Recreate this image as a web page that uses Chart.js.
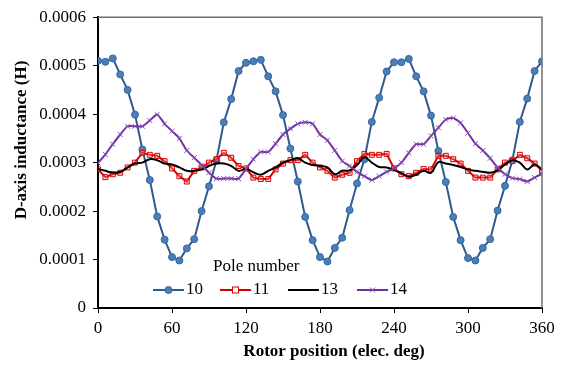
<!DOCTYPE html>
<html>
<head>
<meta charset="utf-8">
<script src="https://cdn.jsdelivr.net/npm/chart.js@4/dist/chart.umd.min.js"></script>
<style>
  html, body { margin: 0; padding: 0; background: #fff; }
  #wrap { width: 563px; height: 367px; }
</style>
</head>
<body>
<div id="wrap"><canvas id="chart" width="563" height="367"></canvas></div>
<script>
// Rotor position (elec. deg), one sample every 6 deg
const angles = [
  0, 6, 12, 18, 24, 30, 36, 42, 48, 54, 60, 66, 72, 78, 84, 90, 96, 102, 108, 114,
  120, 126, 132, 138, 144, 150, 156, 162, 168, 174, 180, 186, 192, 198, 204, 210, 216, 222, 228, 234,
  240, 246, 252, 258, 264, 270, 276, 282, 288, 294, 300, 306, 312, 318, 324, 330, 336, 342, 348, 354, 360
];

// D-axis inductance (H) per pole number
const pole10 = [
  0.000510, 0.000508, 0.000515, 0.000482, 0.000450, 0.000399, 0.000327, 0.000264, 0.000189, 0.000141,
  0.000105, 0.000098, 0.000123, 0.000142, 0.000200, 0.000251, 0.000304, 0.000383, 0.000431, 0.000489,
  0.000506, 0.000509, 0.000512, 0.000478, 0.000447, 0.000398, 0.000329, 0.000261, 0.000188, 0.000140,
  0.000105, 0.000096, 0.000124, 0.000145, 0.000202, 0.000257, 0.000307, 0.000384, 0.000434, 0.000488,
  0.000507, 0.000507, 0.000514, 0.000478, 0.000447, 0.000397, 0.000324, 0.000260, 0.000188, 0.000140,
  0.000103, 0.000098, 0.000124, 0.000142, 0.000201, 0.000252, 0.000305, 0.000384, 0.000432, 0.000489, 0.000509
];
const pole11 = [
  0.000286, 0.000270, 0.000276, 0.000279, 0.000290, 0.000300, 0.000320, 0.000316, 0.000314, 0.000303,
  0.000288, 0.000272, 0.000261, 0.000283, 0.000290, 0.000300, 0.000307, 0.000320, 0.000310, 0.000293,
  0.000288, 0.000269, 0.000266, 0.000266, 0.000286, 0.000298, 0.000305, 0.000305, 0.000316, 0.000300,
  0.000290, 0.000283, 0.000269, 0.000275, 0.000279, 0.000303, 0.000318, 0.000316, 0.000316, 0.000318,
  0.000288, 0.000276, 0.000272, 0.000279, 0.000287, 0.000286, 0.000314, 0.000314, 0.000307, 0.000298,
  0.000283, 0.000269, 0.000269, 0.000269, 0.000286, 0.000300, 0.000303, 0.000316, 0.000309, 0.000298, 0.000283
];
const pole13 = [
  0.000287, 0.000283, 0.000279, 0.000281, 0.000290, 0.000298, 0.000300, 0.000307, 0.000305, 0.000298,
  0.000296, 0.000290, 0.000283, 0.000283, 0.000286, 0.000293, 0.000298, 0.000298, 0.000293, 0.000283,
  0.000287, 0.000280, 0.000275, 0.000283, 0.000290, 0.000300, 0.000305, 0.000309, 0.000300, 0.000295,
  0.000293, 0.000290, 0.000276, 0.000283, 0.000284, 0.000295, 0.000311, 0.000300, 0.000291, 0.000290,
  0.000285, 0.000278, 0.000271, 0.000275, 0.000283, 0.000279, 0.000301, 0.000298, 0.000295, 0.000291,
  0.000286, 0.000283, 0.000281, 0.000279, 0.000284, 0.000296, 0.000305, 0.000300, 0.000286, 0.000296, 0.000286
];
const pole14 = [
  0.000299, 0.000317, 0.000338, 0.000358, 0.000375, 0.000375, 0.000375, 0.000387, 0.000399, 0.000380,
  0.000365, 0.000350, 0.000325, 0.000310, 0.000295, 0.000279, 0.000267, 0.000267, 0.000267, 0.000267,
  0.000287, 0.000307, 0.000322, 0.000322, 0.000339, 0.000358, 0.000370, 0.000380, 0.000383, 0.000380,
  0.000358, 0.000346, 0.000325, 0.000303, 0.000293, 0.000281, 0.000272, 0.000264, 0.000272, 0.000281,
  0.000288, 0.000300, 0.000320, 0.000338, 0.000338, 0.000355, 0.000372, 0.000389, 0.000392, 0.000382,
  0.000361, 0.000339, 0.000325, 0.000309, 0.000290, 0.000276, 0.000268, 0.000266, 0.000261, 0.000269, 0.000277
];

const seriesNames = ['10', '11', '13', '14'];
const xTicks = [0, 60, 120, 180, 240, 300, 360];
const yTicks = [0, 0.0001, 0.0002, 0.0003, 0.0004, 0.0005, 0.0006];

const FONT = "'Liberation Serif', 'Times New Roman', serif";

const toPoints = vals => angles.map((a, i) => ({ x: a, y: vals[i] }));

const styles = [
  { line: '#2F5B8C', style: 'circle', radius: 3.5, fill: '#4A7EBB', stroke: '#36679E', width: 2, tension: 0 },
  { line: '#D80000', style: 'rect', radius: 3.5, fill: 'rgba(255,170,170,0.3)', stroke: '#D80000', width: 2, tension: 0 },
  { line: '#000000', style: false, radius: 0, fill: '#000', stroke: '#000', width: 2, tension: 0.4 },
  { line: '#7030A0', style: 'crossRot', radius: 3.5, fill: '#7030A0', stroke: '#8A4CB8', width: 2, tension: 0.2 }
];

const allValues = [pole10, pole11, pole13, pole14];

const datasets = allValues.map((vals, i) => ({
  label: seriesNames[i],
  data: toPoints(vals),
  borderColor: styles[i].line,
  borderWidth: styles[i].width,
  tension: styles[i].tension,
  pointStyle: styles[i].style,
  pointRadius: styles[i].radius,
  pointBackgroundColor: styles[i].fill,
  pointBorderColor: styles[i].stroke,
  pointBorderWidth: 1,
  order: 4 - i
}));

// small marker for the legend
function drawMarker(ctx, s, x, y) {
  ctx.fillStyle = s.fill;
  ctx.strokeStyle = s.stroke;
  ctx.lineWidth = 1;
  if (s.style === 'circle') {
    ctx.beginPath();
    ctx.arc(x, y, 3.5, 0, Math.PI * 2);
    ctx.fill();
    ctx.stroke();
  } else if (s.style === 'rect') {
    ctx.fillStyle = '#fff';
    ctx.fillRect(x - 3, y - 3, 6, 6);
    ctx.strokeRect(x - 3, y - 3, 6, 6);
  } else if (s.style === 'crossRot') {
    ctx.beginPath();
    ctx.moveTo(x - 2.5, y - 2.5); ctx.lineTo(x + 2.5, y + 2.5);
    ctx.moveTo(x - 2.5, y + 2.5); ctx.lineTo(x + 2.5, y - 2.5);
    ctx.stroke();
  }
}

const framePlugin = {
  id: 'frame',
  afterDraw(chart) {
    const { ctx, chartArea: a } = chart;
    ctx.save();

    // grey top and right border of the plot area
    ctx.strokeStyle = '#6f6f6f';
    ctx.lineWidth = 1.5;
    ctx.beginPath();
    ctx.moveTo(a.left, a.top);
    ctx.lineTo(a.right, a.top);
    ctx.lineTo(a.right, a.bottom);
    ctx.stroke();

    // axis titles
    ctx.fillStyle = '#000';
    ctx.font = "bold 17px " + FONT;
    ctx.textAlign = 'center';
    ctx.textBaseline = 'middle';
    ctx.fillText('Rotor position (elec. deg)', (a.left + a.right) / 2 + 14, 352);
    ctx.save();
    ctx.translate(22, 140);
    ctx.rotate(-Math.PI / 2);
    ctx.fillText('D-axis inductance (H)', 0, 0);
    ctx.restore();

    // legend inside the plot area
    ctx.font = "17px " + FONT;
    ctx.textAlign = 'left';
    ctx.fillText('Pole number', 213, 267);
    const starts = [153, 220, 288, 357];
    seriesNames.forEach((name, i) => {
      const s = styles[i];
      const x0 = starts[i], y0 = 290;
      ctx.strokeStyle = s.line;
      ctx.lineWidth = 2;
      ctx.beginPath();
      ctx.moveTo(x0, y0);
      ctx.lineTo(x0 + 31, y0);
      ctx.stroke();
      drawMarker(ctx, s, x0 + 15.5, y0);
      ctx.fillStyle = '#000';
      ctx.fillText(name, x0 + 33, y0);
    });

    ctx.restore();
  }
};

const ctx = document.getElementById('chart').getContext('2d');
new Chart(ctx, {
  type: 'line',
  data: { datasets },
  options: {
    responsive: false,
    animation: false,
    layout: { padding: { top: 15, right: 21, left: 0, bottom: 0 } },
    plugins: {
      legend: { display: false },
      tooltip: { enabled: false }
    },
    scales: {
      x: {
        type: 'linear',
        min: 0,
        max: 360,
        afterBuildTicks: axis => { axis.ticks = xTicks.map(v => ({ value: v })); },
        afterFit: scale => { scale.height = 59; },
        grid: { drawOnChartArea: false, drawTicks: true, tickLength: 5, color: '#000', lineWidth: 1 },
        border: { display: true, color: '#000', width: 2 },
        ticks: { color: '#000', font: { family: FONT, size: 17 }, padding: 5, maxRotation: 0 }
      },
      y: {
        type: 'linear',
        min: 0,
        max: 0.0006,
        afterBuildTicks: axis => { axis.ticks = yTicks.map(v => ({ value: v })); },
        afterFit: scale => { scale.width = 98; },
        grid: { drawOnChartArea: false, drawTicks: true, tickLength: 5, color: '#000', lineWidth: 1 },
        border: { display: true, color: '#000', width: 2 },
        ticks: {
          color: '#000',
          font: { family: FONT, size: 17 },
          padding: 7,
          callback: v => (v === 0 ? '0' : v.toFixed(4))
        }
      }
    }
  },
  plugins: [framePlugin]
});
</script>
</body>
</html>
